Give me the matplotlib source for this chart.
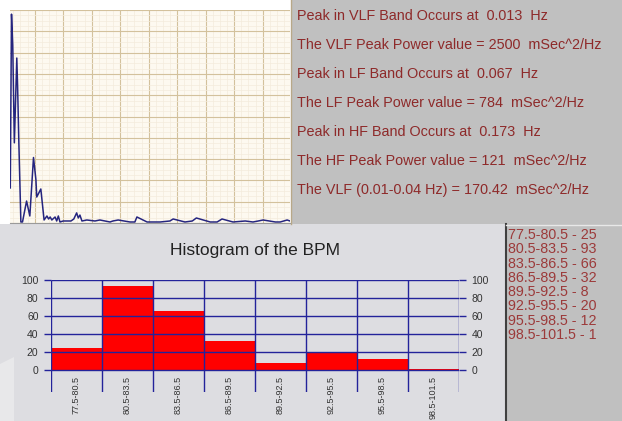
import numpy as np
import matplotlib
matplotlib.use("Agg")
import matplotlib.pyplot as plt
from matplotlib.patches import Rectangle, Polygon

plt.rcParams['font.family'] = ['Liberation Sans', 'DejaVu Sans']

# --- spectrum (Hz, mSec^2/Hz) ---
freq_hz = [0.010, 0.013, 0.016, 0.020, 0.026, 0.028, 0.031, 0.036, 0.040, 0.050,
           0.058, 0.067, 0.073, 0.075, 0.085, 0.093, 0.100, 0.104, 0.108, 0.112,
           0.120, 0.124, 0.128, 0.132, 0.140, 0.149, 0.159, 0.166, 0.173, 0.177,
           0.181, 0.186, 0.198, 0.218, 0.230, 0.255, 0.262, 0.275, 0.304, 0.316,
           0.321, 0.346, 0.378, 0.402, 0.410, 0.439, 0.457, 0.467, 0.501, 0.518,
           0.530, 0.557, 0.587, 0.606, 0.619, 0.631, 0.661, 0.673, 0.690, 0.697]
power = [420, 2500, 2130, 960, 1975, 1630, 970, 12, 12, 263,
         84, 784, 515, 311, 407, 36, 84, 48, 72, 36,
         72, 24, 84, 12, 24, 24, 24, 48, 121, 60,
         95, 24, 36, 24, 36, 12, 24, 36, 12, 12,
         72, 12, 12, 24, 48, 12, 24, 60, 12, 12,
         48, 12, 24, 12, 24, 36, 12, 12, 36, 24]

info_lines = [
    "Peak in VLF Band Occurs at  0.013  Hz",
    "The VLF Peak Power value = 2500  mSec^2/Hz",
    "Peak in LF Band Occurs at  0.067  Hz",
    "The LF Peak Power value = 784  mSec^2/Hz",
    "Peak in HF Band Occurs at  0.173  Hz",
    "The HF Peak Power value = 121  mSec^2/Hz",
    "The VLF (0.01-0.04 Hz) = 170.42  mSec^2/Hz",
]

# --- histogram of BPM ---
bins = ["77.5-80.5", "80.5-83.5", "83.5-86.5", "86.5-89.5",
        "89.5-92.5", "92.5-95.5", "95.5-98.5", "98.5-101.5"]
counts = [25, 93, 66, 32, 8, 20, 12, 1]

W, H = 622, 421
fig = plt.figure(figsize=(W / 100, H / 100), dpi=100)
fig.patch.set_facecolor("white")

def box(l, t, r, b):
    return [l / W, 1 - b / H, (r - l) / W, (b - t) / H]

# background canvas in pixel coords
bg = fig.add_axes([0, 0, 1, 1], zorder=0)
bg.set_xlim(0, W); bg.set_ylim(H, 0); bg.axis("off")
bg.add_patch(Rectangle((0, 224), 506, H - 224, color="#dddde1", lw=0))
bg.add_patch(Polygon([(0, 364), (14, 357), (14, H), (0, H)], closed=True, color="#e8e8ea", lw=0))
bg.add_patch(Rectangle((291, 0), W - 291, 224, color="#c0c0c0", lw=0))
bg.add_patch(Rectangle((506, 224), W - 506, H - 224, color="#c0c0c0", lw=0))
bg.plot([290.5, 290.5], [0, 224], color="#b8a888", lw=1)
bg.plot([506, 506], [224, H], color="#404040", lw=1.5)
bg.plot([506, W], [224.5, 224.5], color="#e8e8e8", lw=1)

for i, s in enumerate(info_lines):
    bg.text(297, 16 + 29 * i, s, color="#8e2a2a", fontsize=10.4, va="center", ha="left")

for i, (b, c) in enumerate(zip(bins, counts)):
    bg.text(508, 235 + 14.3 * i, f"{b} - {c}", color="#9c3a3a", fontsize=10.3, va="center", ha="left")

bg.text(255, 250, "Histogram of the BPM", fontsize=12.5, color="#222222", ha="center", va="center")

# spectrum panel
ax = fig.add_axes(box(10, 10, 290, 223), zorder=2)
ax.set_facecolor("#fdf9f0")
ax.set_xlim(0.0093, 0.697)
ax.set_ylim(0, 2550)
ax.set_xticks(np.arange(0.07, 0.7, 0.07))
ax.set_xticks(np.arange(0.0175, 0.7, 0.0175), minor=True)
ax.set_yticks(np.arange(0, 2551, 255))
ax.set_yticks(np.arange(0, 2551, 63.75), minor=True)
ax.grid(which="minor", color="#f4ecdc", lw=0.5)
ax.grid(which="major", color="#d3c19c", lw=0.8)
ax.set_axisbelow(True)
ax.tick_params(which="both", length=0, labelleft=False, labelbottom=False)
for sp in ax.spines.values():
    sp.set_visible(False)
ax.spines["bottom"].set_visible(True)
ax.spines["bottom"].set_color("#9a9a9a")
ax.plot(freq_hz, power, color="#25257f", lw=1.1)

# histogram panel
hx = fig.add_axes(box(51, 280, 459, 392), zorder=2)
hx.set_facecolor("none")
hx.set_xlim(0, len(bins))
hx.set_ylim(-24.4, 100)
hx.bar(np.arange(len(bins)), counts, width=1, align="edge", color="#ff0000", lw=0, zorder=1)
grid_c = "#23239a"
hx.hlines(np.arange(0, 101, 20), 0, len(bins), color=grid_c, lw=1, zorder=2)
hx.vlines(np.arange(len(bins) + 1), -24.4, 100, color=grid_c, lw=1, zorder=2)
for sp in hx.spines.values():
    sp.set_visible(False)
hx.set_xticks([])
hx.set_yticks(np.arange(0, 101, 20))
hx.tick_params(axis="y", which="both", left=True, right=True, labelleft=True, labelright=True,
               length=5, width=1, color=grid_c, labelsize=7.5, labelcolor="#333333", pad=4)
for i, b in enumerate(bins):
    hx.text(i + 0.5, -6.5, b, rotation=90, ha="center", va="top", fontsize=6.5, color="#333333")

fig.savefig("out.png", dpi=100)
